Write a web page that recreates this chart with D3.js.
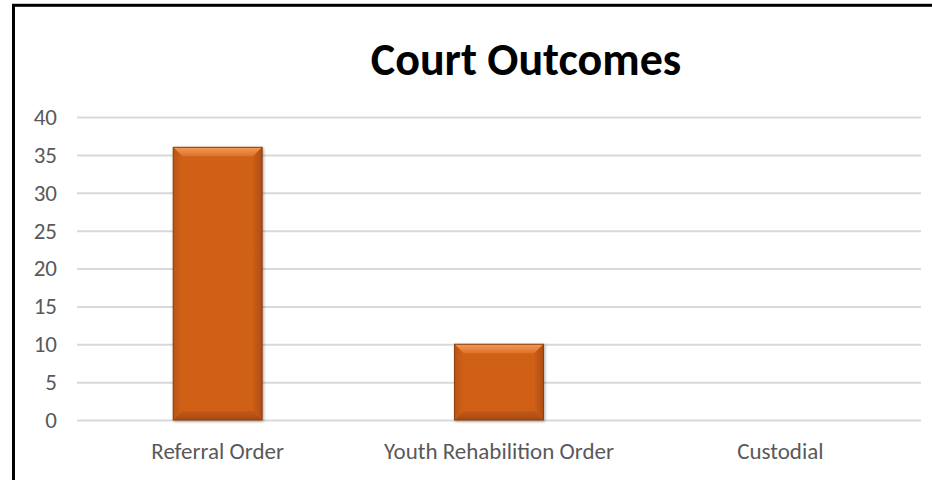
<!DOCTYPE html>
<html>
<head>
<meta charset="utf-8">
<script src="https://cdnjs.cloudflare.com/ajax/libs/d3/7.8.5/d3.min.js"></script>
<style>
  body{ margin:0; background:#fff; }
  svg{ display:block; }
</style>
</head>
<body>
<div id="chart"></div>
<script>
// chart data
var categories = ["Referral Order", "Youth Rehabilition Order", "Custodial"];
var values = [36, 10, 0];
var yTicks = [0, 5, 10, 15, 20, 25, 30, 35, 40];
var title = "Court Outcomes";

var W = 932, H = 480,
    FONT = "Calibri, Carlito, Lato, sans-serif",
    plot = {left:77, right:921, top:117, bottom:420},
    BEVEL = 9;

var svg = d3.select("#chart").append("svg")
    .attr("width", W)
    .attr("height", H);

// frame, only top and left edges fall inside the picture
svg.append("rect")
    .attr("x", 13.5).attr("y", 5.3)
    .attr("width", 1000).attr("height", 1000)
    .attr("fill", "#fff")
    .attr("stroke", "#000")
    .attr("stroke-width", 3);

var x = d3.scaleBand()
    .domain(categories)
    .range([plot.left, plot.right])
    .paddingInner(0.684)
    .paddingOuter(0.342);

var y = d3.scaleLinear()
    .domain([0, 40])
    .range([plot.bottom, plot.top]);

// gridlines + y labels
var yAxis = svg.append("g")
    .attr("transform", "translate(" + plot.left + ",0)")
    .call(d3.axisLeft(y)
        .tickValues(yTicks)
        .tickSize(-(plot.right - plot.left))
        .tickPadding(20));
yAxis.select(".domain").remove();
yAxis.selectAll(".tick line")
    .attr("stroke", "#d9d9d9")
    .attr("stroke-width", 2);
yAxis.selectAll(".tick text")
    .attr("fill", "#595959")
    .style("font-family", FONT)
    .style("font-size", "23px");

// x labels
var xAxis = svg.append("g")
    .attr("transform", "translate(0," + plot.bottom + ")")
    .call(d3.axisBottom(x).tickSize(0).tickPadding(0));
xAxis.select(".domain").remove();
xAxis.selectAll(".tick text")
    .attr("dy", null)
    .attr("y", 39)
    .attr("fill", "#595959")
    .style("font-family", FONT)
    .style("font-size", "23px");

// gradients for the bevel faces
var defs = svg.append("defs");
function grad(id, x2, y2, stops){
    var g = defs.append("linearGradient").attr("id", id)
        .attr("x1", 0).attr("y1", 0).attr("x2", x2).attr("y2", y2);
    stops.forEach(function(s){
        g.append("stop").attr("offset", s[0]).attr("stop-color", s[1]);
    });
}
grad("bvTop", 0, 1, [[0, "#f49a58"], [1, "#df7028"]]);
grad("bvBot", 0, 1, [[0, "#c45915"], [1, "#a44a11"]]);
grad("bvLeft", 1, 0, [[0, "#bb5514"], [1, "#cf6019"]]);
grad("bvRight", 1, 0, [[0, "#cb5d17"], [1, "#ad4e12"]]);

var shadow = defs.append("filter").attr("id", "shadow")
    .attr("x", "-10%").attr("y", "-10%").attr("width", "130%").attr("height", "130%");
shadow.append("feDropShadow")
    .attr("dx", 1).attr("dy", 1).attr("stdDeviation", 1.5)
    .attr("flood-color", "#000").attr("flood-opacity", 0.35);

var bars = svg.append("g").selectAll("g")
    .data(categories.map(function(c, i){ return {cat:c, val:values[i]}; })
          .filter(function(d){ return d.val > 0; }))
    .enter().append("g")
    .attr("filter", "url(#shadow)");

bars.each(function(d){
    var g = d3.select(this),
        x0 = x(d.cat), x1 = x0 + x.bandwidth(),
        y0 = y(d.val), y1 = y(0),
        b = Math.min(BEVEL, (y1 - y0) / 2);
    g.append("rect")
        .attr("x", x0).attr("y", y0)
        .attr("width", x1 - x0).attr("height", y1 - y0)
        .attr("fill", "#d06117");
    var faces = [
        ["bvTop",   [[x0,y0],[x1,y0],[x1-b,y0+b],[x0+b,y0+b]]],
        ["bvBot",   [[x0,y1],[x1,y1],[x1-b,y1-b],[x0+b,y1-b]]],
        ["bvLeft",  [[x0,y0],[x0+b,y0+b],[x0+b,y1-b],[x0,y1]]],
        ["bvRight", [[x1,y0],[x1-b,y0+b],[x1-b,y1-b],[x1,y1]]]
    ];
    faces.forEach(function(f){
        g.append("polygon")
            .attr("points", f[1].map(function(p){ return p.join(","); }).join(" "))
            .attr("fill", "url(#" + f[0] + ")");
    });
    g.append("rect")
        .attr("x", x0).attr("y", y0)
        .attr("width", x1 - x0).attr("height", y1 - y0)
        .attr("fill", "none")
        .attr("stroke", "#8a3f0f")
        .attr("stroke-width", 1);
});

// title
svg.append("text")
    .attr("x", 526).attr("y", 75)
    .attr("text-anchor", "middle")
    .style("font-family", FONT)
    .style("font-weight", "bold")
    .style("font-size", "46px")
    .attr("fill", "#000")
    .text(title);
</script>
</body>
</html>
